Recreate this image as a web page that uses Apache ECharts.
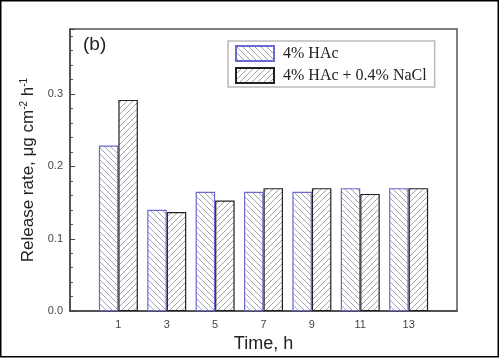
<!DOCTYPE html>
<html>
<head>
<meta charset="utf-8">
<script src="https://cdn.jsdelivr.net/npm/echarts@6/dist/echarts.min.js"></script>
<style>
html,body{margin:0;padding:0;background:#fff;}
#chart{width:500px;height:358px;}
</style>
</head>
<body>
<div id="chart"></div>
<script>
// ---- data ----
const categories = ['-1', '1', '3', '5', '7', '9', '11', '13', '15'];
const seriesNames = ['4% HAc', '4% HAc + 0.4% NaCl'];
const hacValues  = [null, 0.229, 0.140, 0.165, 0.165, 0.165, 0.170, 0.170, null];
const naclValues = [null, 0.292, 0.137, 0.153, 0.170, 0.170, 0.162, 0.170, null];
const yTickValues = [0, 0.1, 0.2, 0.3];
const yMax = 0.39;

// ---- hatch patterns ----
function hatch(dir, color) {
  const s = 6;
  const c = document.createElement('canvas');
  c.width = s; c.height = s;
  const g = c.getContext('2d');
  g.fillStyle = '#fff';
  g.fillRect(0, 0, s, s);
  g.strokeStyle = color;
  g.lineWidth = 0.9;
  g.beginPath();
  if (dir === 'back') {
    g.moveTo(-1, -1); g.lineTo(s + 1, s + 1);
    g.moveTo(-1, s - 1); g.lineTo(1, s + 1);
    g.moveTo(s - 1, -1); g.lineTo(s + 1, 1);
  } else {
    g.moveTo(-1, s + 1); g.lineTo(s + 1, -1);
    g.moveTo(-1, 1); g.lineTo(1, -1);
    g.moveTo(s - 1, s + 1); g.lineTo(s + 1, s - 1);
  }
  g.stroke();
  return c;
}

const chart = echarts.init(document.getElementById('chart'), null, {renderer: 'canvas'});
const option = {
  animation: false,
  backgroundColor: '#fff',
  grid: {
    left: 70, top: 29, right: 43, bottom: 45,
    show: true, borderColor: '#555', borderWidth: 1.5, backgroundColor: 'transparent'
  },
  legend: {
    orient: 'vertical',
    left: 228, top: 41,
    padding: [4, 8, 3, 7],
    itemGap: 5,
    itemWidth: 38, itemHeight: 15,
    icon: 'rect',
    borderColor: '#bbbbbb', borderWidth: 1.5,
    align: 'left',
    textStyle: {fontFamily: 'Liberation Serif, Times New Roman, serif', fontSize: 16, color: '#222', padding: [0, 0, 0, 4]},
    data: seriesNames
  },
  xAxis: {
    type: 'category',
    data: categories,
    boundaryGap: false,
    name: 'Time, h',
    nameLocation: 'middle',
    nameGap: 18,
    nameTextStyle: {fontFamily: 'Liberation Sans, Arial, sans-serif', fontSize: 18, color: '#222'},
    axisLine: {lineStyle: {color: '#444', width: 1.5}},
    axisTick: {show: false},
    axisLabel: {
      fontFamily: 'Liberation Sans, Arial, sans-serif', fontSize: 11, color: '#444', margin: 8,
      interval: 0,
      formatter: function (v, i) { return (i === 0 || i === categories.length - 1) ? '' : v; }
    },
    splitLine: {show: false}
  },
  yAxis: {
    type: 'value',
    min: 0, max: yMax, interval: 0.1,
    name: 'Release rate, μg cm{sup|-2} h{sup|-1}',
    nameLocation: 'middle',
    nameGap: 28,
    nameTextStyle: {
      fontFamily: 'Liberation Sans, Arial, sans-serif', fontSize: 17, color: '#222',
      rich: {sup: {fontFamily: 'Liberation Sans, Arial, sans-serif', fontSize: 10, color: '#222', padding: [0, 0, 9, 0]}}
    },
    axisLine: {show: true, lineStyle: {color: '#444', width: 1.5}},
    axisTick: {show: true, inside: true, length: 5, lineStyle: {color: '#444'}},
    minorTick: {show: true, splitNumber: 5, length: 3, lineStyle: {color: '#555'}},
    axisLabel: {
      fontFamily: 'Liberation Sans, Arial, sans-serif', fontSize: 11, color: '#444', margin: 7,
      showMaxLabel: false,
      formatter: function (v) { return yTickValues.some(t => Math.abs(t - v) < 1e-9) ? v.toFixed(1) : ''; }
    },
    splitLine: {show: false},
    minorSplitLine: {show: false}
  },
  series: [
    {
      name: seriesNames[0], type: 'bar', data: hacValues,
      barWidth: 19.5, barGap: '0%',
      itemStyle: {color: {image: hatch('back', '#9a9aa8'), repeat: 'repeat'}, borderColor: '#6a6ad0', borderWidth: 1.2}
    },
    {
      name: seriesNames[1], type: 'bar', data: naclValues,
      barWidth: 19.5, barGap: '0%',
      itemStyle: {color: {image: hatch('fwd', '#999'), repeat: 'repeat'}, borderColor: '#222', borderWidth: 1.2}
    }
  ],
  graphic: [
    {type: 'text', left: 83, top: 35, style: {text: '(b)', font: '19px "Liberation Sans", Arial, sans-serif', fill: '#222'}},
    {type: 'rect', shape: {x: 0.75, y: 0.75, width: 497.5, height: 356}, style: {fill: 'none', stroke: '#000', lineWidth: 1.5}, silent: true}
  ]
};
chart.setOption(option);
</script>
</body>
</html>
